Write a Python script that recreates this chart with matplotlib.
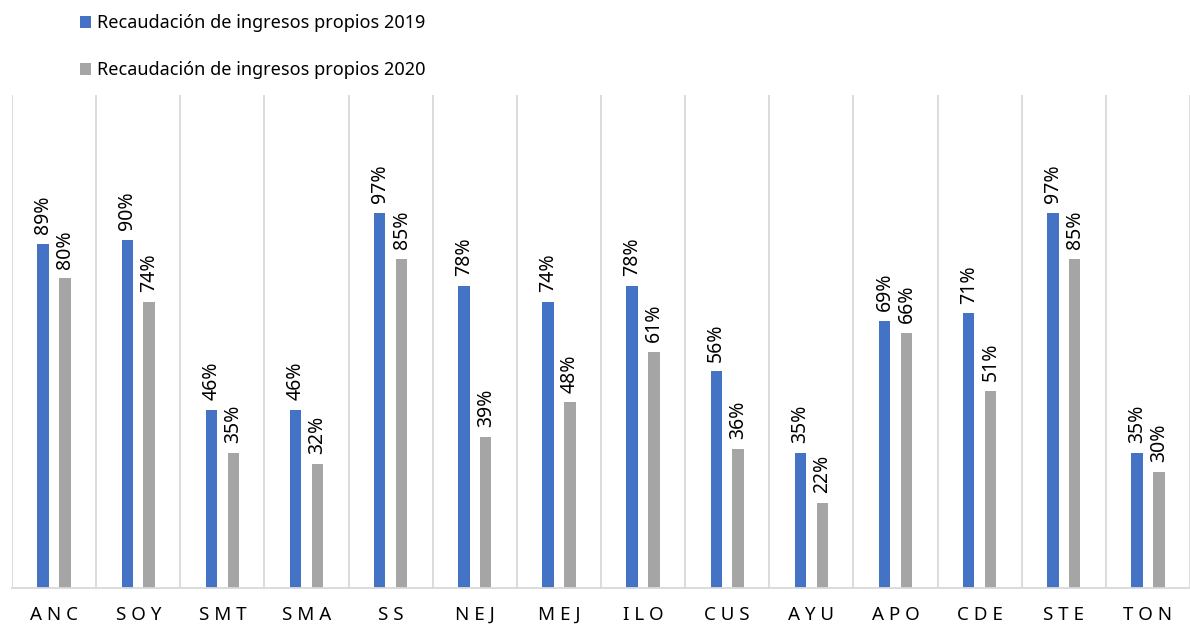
import matplotlib.pyplot as plt
import numpy as np

plt.rcParams['font.family'] = ['Noto Sans', 'DejaVu Sans']

# data
municipios = ['ANC', 'SOY', 'SMT', 'SMA', 'SS', 'NEJ', 'MEJ', 'ILO', 'CUS', 'AYU', 'APO', 'CDE', 'STE', 'TON']
ingresos_2019 = [0.89, 0.90, 0.46, 0.46, 0.97, 0.78, 0.74, 0.78, 0.56, 0.35, 0.69, 0.71, 0.97, 0.35]
ingresos_2020 = [0.80, 0.74, 0.35, 0.32, 0.85, 0.39, 0.48, 0.61, 0.36, 0.22, 0.66, 0.51, 0.85, 0.30]
series_names = ['Recaudación de ingresos propios 2019', 'Recaudación de ingresos propios 2020']

blue = '#4472C4'
grey = '#A5A5A5'
gridc = '#D9D9D9'

fig = plt.figure(figsize=(11.9, 6.25), dpi=100)
ax = fig.add_axes([12/1190, 1-588/625, 1-12/1190, (588-95)/625])

ind = np.arange(len(municipios))
width = 0.135
off = 0.13
r1 = ax.bar(ind - off, ingresos_2019, width, color=blue, label=series_names[0])
r2 = ax.bar(ind + off, ingresos_2020, width, color=grey, label=series_names[1])

def autolabel(rects, vals):
    for rect, v in zip(rects, vals):
        ax.annotate('%d%%' % round(v*100), (rect.get_x()+rect.get_width()/2., v),
                    xytext=(0, 7), textcoords='offset points', rotation=90,
                    ha='center', va='bottom', fontsize=14, color='#000000')

autolabel(r1, ingresos_2019)
autolabel(r2, ingresos_2020)

ax.set_xlim(-0.5, -0.5 + (1190-12)/84.8)
ax.set_ylim(0, 1.274)
ax.set_xticks(ind)
ax.set_xticklabels([' '.join(m) for m in municipios], fontsize=13.5)
ax.set_xticks(np.arange(-0.5, len(municipios), 1), minor=True)
ax.tick_params(axis='x', which='both', length=0, pad=13)
ax.set_yticks([])
ax.grid(axis='x', which='minor', color=gridc, linewidth=1.3)
ax.set_axisbelow(True)
for s in ['top', 'right', 'left']:
    ax.spines[s].set_visible(False)
ax.spines['bottom'].set_color(gridc)
ax.spines['bottom'].set_linewidth(1.3)

fig.legend(loc='upper left', bbox_to_anchor=(64/1190, 1+2/625), frameon=False,
           fontsize=13, handlelength=0.6, handleheight=0.6, handletextpad=0.35,
           labelspacing=1.6)

fig.savefig('out.png', dpi=100)
